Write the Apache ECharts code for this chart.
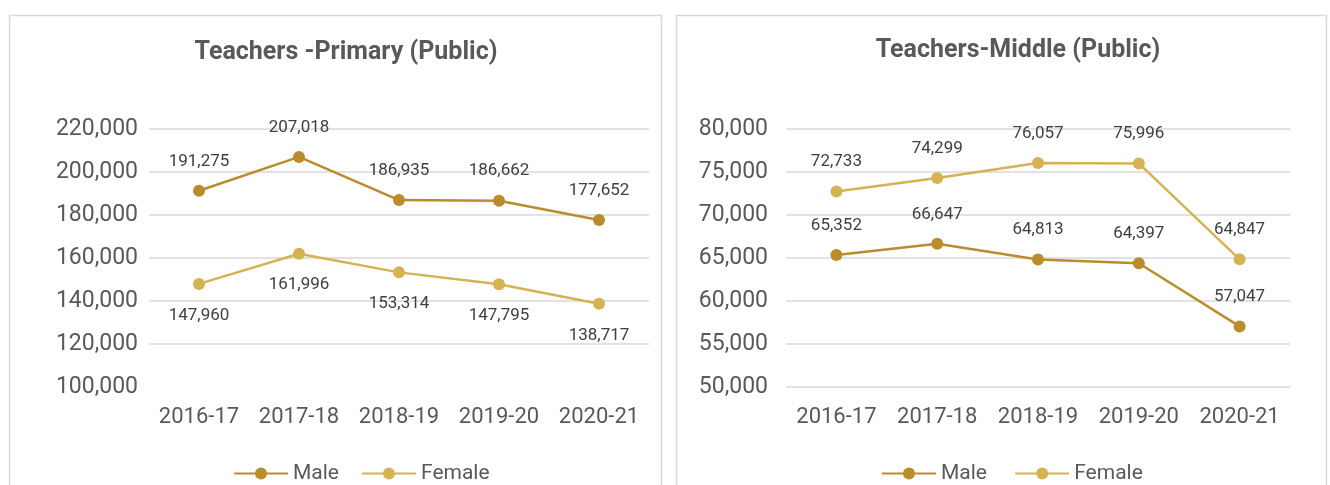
<!DOCTYPE html>
<html>
<head>
<meta charset="utf-8">
<script src="https://cdn.jsdelivr.net/npm/echarts@6/dist/echarts.min.js"></script>
<style>
  html, body { margin: 0; padding: 0; background: #fff; }
  #main { width: 1330px; height: 485px; }
</style>
</head>
<body>
<div id="main"></div>
<script>
// data
var years = ['2016-17', '2017-18', '2018-19', '2019-20', '2020-21'];
var primaryMale = [191275, 207018, 186935, 186662, 177652];
var primaryFemale = [147960, 161996, 153314, 147795, 138717];
var middleMale = [65352, 66647, 64813, 64397, 57047];
var middleFemale = [72733, 74299, 76057, 75996, 64847];

var maleColor = '#bb8c2c';
var femaleColor = '#d5b351';
var fontFam = 'Roboto, "Noto Sans", sans-serif';

function fmt(v) { return v.toLocaleString('en-US'); }

function lineSeries(name, data, color, idx, pos) {
    return {
        name: name,
        type: 'line',
        xAxisIndex: idx,
        yAxisIndex: idx,
        data: data,
        symbol: 'circle',
        symbolSize: 12,
        lineStyle: { color: color, width: 2.5 },
        itemStyle: { color: color },
        label: {
            show: true,
            position: pos,
            distance: pos === 'top' ? 15 : 17,
            fontFamily: fontFam,
            fontSize: 17,
            color: '#404040',
            formatter: function (p) { return fmt(p.value); }
        }
    };
}

function yAxis(idx, min, max, step) {
    return {
        type: 'value',
        gridIndex: idx,
        min: min, max: max, interval: step,
        axisLine: { show: false },
        axisTick: { show: false },
        splitLine: { show: true, showMinLine: idx === 1, lineStyle: { color: '#d9d9d9', width: 1.5 } },
        axisLabel: {
            color: '#595959', fontFamily: fontFam, fontSize: 23, margin: idx === 1 ? 18 : 11,
            formatter: function (v) { return fmt(v); }
        }
    };
}

function xAxis(idx) {
    return {
        type: 'category',
        gridIndex: idx,
        data: years,
        axisLine: { show: false },
        axisTick: { show: false },
        axisLabel: { color: '#595959', fontFamily: fontFam, fontSize: 22, margin: 19, interval: 0 }
    };
}

var legendText = { fontFamily: fontFam, fontSize: 21, color: '#595959' };

var chart = echarts.init(document.getElementById('main'));
var option = {
    animation: false,
    backgroundColor: '#fff',
    graphic: [
        { type: 'rect', shape: { x: 9.5, y: 15.5, width: 652, height: 480 },
          style: { fill: 'none', stroke: '#d9d9d9', lineWidth: 1.5 }, z: -1 },
        { type: 'rect', shape: { x: 676.5, y: 15.5, width: 650, height: 480 },
          style: { fill: 'none', stroke: '#d9d9d9', lineWidth: 1.5 }, z: -1 }
    ],
    title: [
        { text: 'Teachers -Primary (Public)', left: 341, top: 35, textAlign: 'center',
          textStyle: { fontFamily: fontFam, fontSize: 25, fontWeight: 'bold', color: '#595959' } },
        { text: 'Teachers-Middle (Public)', left: 1013, top: 33, textAlign: 'center',
          textStyle: { fontFamily: fontFam, fontSize: 25, fontWeight: 'bold', color: '#595959' } }
    ],
    legend: [
        { data: ['Male', 'Female'], left: 228, top: 458, itemWidth: 54, itemHeight: 15, itemGap: 22,
          textStyle: legendText },
        { data: ['Male ', 'Female '], left: 876, top: 458, itemWidth: 54, itemHeight: 15, itemGap: 22,
          textStyle: legendText }
    ],
    grid: [
        { left: 149, right: 681, top: 129, height: 258 },
        { left: 786, right: 40, top: 129, height: 258 }
    ],
    xAxis: [xAxis(0), xAxis(1)],
    yAxis: [yAxis(0, 100000, 220000, 20000), yAxis(1, 50000, 80000, 5000)],
    series: [
        lineSeries('Male', primaryMale, maleColor, 0, 'top'),
        lineSeries('Female', primaryFemale, femaleColor, 0, 'bottom'),
        lineSeries('Male ', middleMale, maleColor, 1, 'top'),
        lineSeries('Female ', middleFemale, femaleColor, 1, 'top')
    ]
};
chart.setOption(option);
</script>
</body>
</html>
